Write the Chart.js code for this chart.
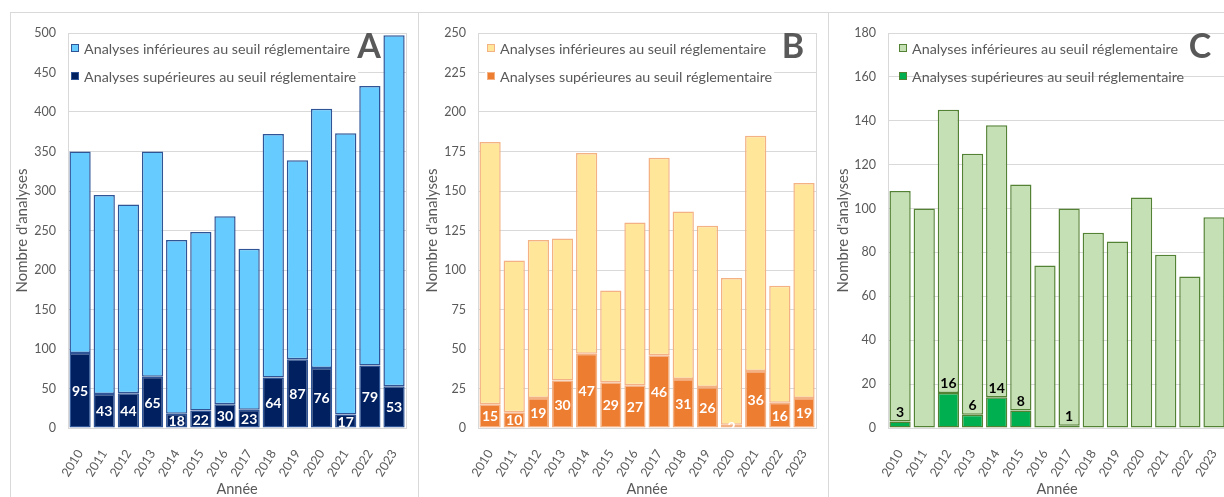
<!DOCTYPE html>
<html><head><meta charset="utf-8">
<script src="https://cdn.jsdelivr.net/npm/chart.js@4.4.1/dist/chart.umd.min.js"></script>
<style>
html,body{margin:0;padding:0;width:1224px;height:497px;overflow:hidden;background:#fff;}
.panel{position:absolute;top:12px;height:520px;border:1px solid #D9D9D9;background:#fff;box-sizing:border-box;}
canvas{position:absolute;top:12px;}
</style></head><body>
<div class="panel" style="left:10px;width:409px"></div>
<canvas id="cA" width="408" height="495" style="left:10px"></canvas>
<div class="panel" style="left:418px;width:411px"></div>
<canvas id="cB" width="410" height="495" style="left:418px"></canvas>
<div class="panel" style="left:828px;width:420px"></div>
<canvas id="cC" width="410" height="495" style="left:828px"></canvas>
<script>
// ---- data ----
const years = ['2010','2011','2012','2013','2014','2015','2016','2017','2018','2019','2020','2021','2022','2023'];
const legendLabels = ['Analyses inférieures au seuil réglementaire','Analyses supérieures au seuil réglementaire'];
const infA = [255,252,239,285,220,226,238,204,308,252,328,356,354,444];
const supA = [95,43,44,65,18,22,30,23,64,87,76,17,79,53];
const infB = [166,96,100,90,127,58,103,125,106,102,93,149,74,136];
const supB = [15,10,19,30,47,29,27,46,31,26,2,36,16,19];
const infC = [105,100,129,119,124,103,74,99,89,85,105,79,69,96];
const supC = [3,0,16,6,14,8,0,1,0,0,0,0,0,0];
const yMaxA = 500, yStepA = 50;
const yMaxB = 250, yStepB = 25;
const yMaxC = 180, yStepC = 20;

const FONT = 'Lato';
const GRAY = '#595959';
const GRID = '#D9D9D9';

const decor = {
  id: 'decor',
  beforeDatasetsDraw(chart, args, o) {
    const {ctx, chartArea: a} = chart;
    ctx.save();
    ctx.strokeStyle = GRID; ctx.lineWidth = 1;
    ctx.strokeRect(Math.round(a.left) + 0.5, Math.round(a.top) + 0.5, Math.round(a.right - a.left), Math.round(a.bottom - a.top));
    ctx.restore();
  },
  afterDatasetsDraw(chart, args, o) {
    const {ctx, chartArea: a} = chart;
    const meta = chart.getDatasetMeta(0);
    const vals = chart.data.datasets[0].data;
    ctx.save();
    ctx.beginPath(); ctx.rect(a.left, a.top, a.right - a.left, a.bottom - a.top); ctx.clip();
    ctx.font = 'bold 14px ' + FONT;
    ctx.textAlign = 'center'; ctx.textBaseline = 'middle';
    meta.data.forEach((el, i) => {
      const v = vals[i];
      if (o.labelMode === 'end') {
        if (!v) return;
        ctx.fillStyle = '#000';
        ctx.fillText(String(v), el.x, el.y - 9);
      } else {
        ctx.fillStyle = '#fff';
        ctx.fillText(String(v), el.x, (el.y + el.base) / 2 + 1);
      }
    });
    ctx.restore();
    ctx.save();
    ctx.font = '14.3px ' + FONT;
    const mx = a.left + o.legendX, tx = a.left + o.legendX + 13;
    const rows = [a.top + 15, a.top + 43];
    const order = [1, 0];
    if (o.legendBg) {
      const w = Math.max(...legendLabels.map(t => ctx.measureText(t).width));
      ctx.fillStyle = '#fff';
      ctx.fillRect(mx - 2, rows[1] - 10, tx - mx + w + 4, 20);
    }
    order.forEach((di, r) => {
      const ds = chart.data.datasets[di];
      ctx.fillStyle = ds.backgroundColor;
      ctx.fillRect(mx, rows[r] - 4, 8, 8);
      ctx.strokeStyle = ds.borderColor; ctx.lineWidth = 1;
      ctx.strokeRect(mx + 0.5, rows[r] - 3.5, 7, 7);
      ctx.fillStyle = GRAY; ctx.textAlign = 'left'; ctx.textBaseline = 'middle';
      ctx.fillText(ds.label, tx, rows[r] + 1);
    });
    ctx.font = 'bold 34px ' + FONT;
    ctx.fillStyle = GRAY; ctx.textAlign = 'center'; ctx.textBaseline = 'middle';
    ctx.fillText(o.letter, a.right - o.letterDx, a.top + 14);
    ctx.restore();
  }
};

function makeChart(id, inf, sup, colors, yMax, yStep, opt) {
  new Chart(document.getElementById(id), {
    type: 'bar',
    data: {
      labels: years,
      datasets: [
        {label: legendLabels[1], data: sup, backgroundColor: colors.sup, borderColor: colors.border, borderWidth: 1.5, borderSkipped: false},
        {label: legendLabels[0], data: inf, backgroundColor: colors.inf, borderColor: colors.border, borderWidth: 1.5, borderSkipped: false}
      ]
    },
    options: {
      responsive: false, animation: false,
      layout: {padding: {left: 0, top: 21, right: opt.padRight, bottom: 0}},
      datasets: {bar: {categoryPercentage: 1, barPercentage: 0.88}},
      plugins: {legend: {display: false}, tooltip: {enabled: false}, decor: opt.decor},
      scales: {
        x: {
          stacked: true,
          grid: {display: false}, border: {display: false},
          ticks: {color: GRAY, font: {family: FONT, size: 12.5}, minRotation: 58, maxRotation: 58, autoSkip: false, padding: 11},
          title: {display: true, text: 'Année', color: GRAY, font: {family: FONT, size: 14.5}, padding: {top: 0, bottom: 9}},
          afterFit(s) { s.height = 79; }
        },
        y: {
          stacked: true, min: 0, max: yMax,
          grid: {color: GRID, drawTicks: false}, border: {display: false},
          ticks: {stepSize: yStep, color: GRAY, font: {family: FONT, size: 12.5}, padding: 12},
          title: {display: true, text: "Nombre d'analyses", color: GRAY, font: {family: FONT, size: 15}, padding: {top: opt.titlePad, bottom: 0}},
          afterFit(s) { s.width = opt.yWidth; }
        }
      }
    },
    plugins: [decor]
  });
}

makeChart('cA', infA, supA, {inf: '#66CCFF', sup: '#002060', border: '#2F5597'}, yMaxA, yStepA,
  {padRight: 7, yWidth: 58, titlePad: 3, decor: {labelMode: 'center', legendX: 3, legendBg: true, letter: 'A', letterDx: 37}});
makeChart('cB', infB, supB, {inf: '#FFE699', sup: '#ED7D31', border: '#F4B183'}, yMaxB, yStepB,
  {padRight: 8, yWidth: 60, titlePad: 5, decor: {labelMode: 'center', legendX: 9, legendBg: true, letter: 'B', letterDx: 23}});
makeChart('cC', infC, supC, {inf: '#C5E0B4', sup: '#00B050', border: '#548235'}, yMaxC, yStepC,
  {padRight: 7, yWidth: 60, titlePad: 6, decor: {labelMode: 'end', legendX: 11, legendBg: false, letter: 'C', letterDx: 26}});
</script>
</body></html>
